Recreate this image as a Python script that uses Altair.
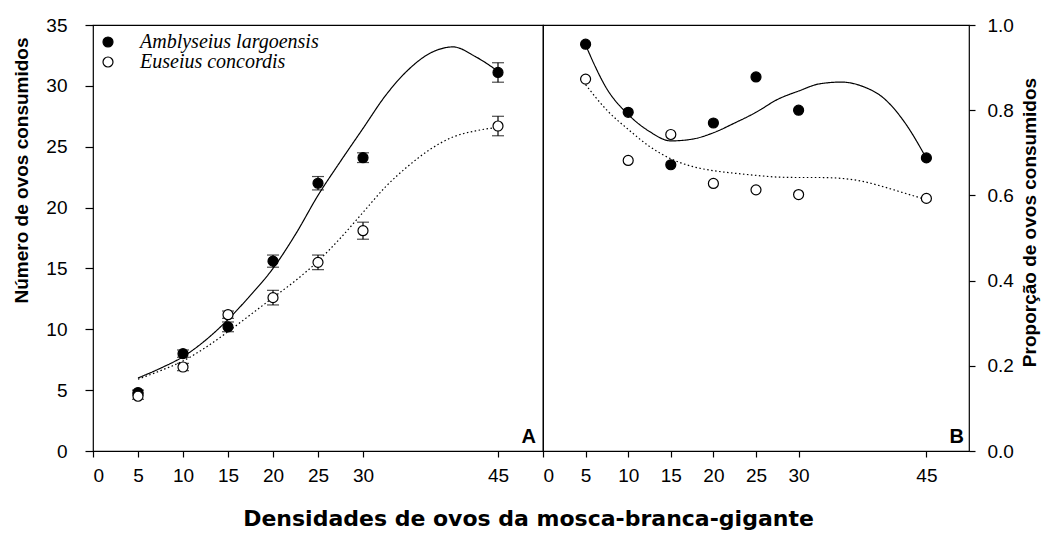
import altair as alt
import pandas as pd

# ---------------- data ----------------
density = [5, 10, 15, 20, 25, 30, 45]
species = ["Amblyseius largoensis", "Euseius concordis"]

eaten_amb = [4.8, 8.0, 10.2, 15.6, 22.0, 24.1, 31.1]
eaten_eus = [4.5, 6.9, 11.2, 12.6, 15.5, 18.1, 26.7]
err_amb = [0.2, 0.3, 0.4, 0.5, 0.55, 0.4, 0.8]
err_eus = [0.25, 0.3, 0.3, 0.6, 0.6, 0.7, 0.8]

prop_amb = [0.955, 0.795, 0.672, 0.770, 0.878, 0.800, 0.688]
prop_eus = [0.873, 0.682, 0.743, 0.628, 0.613, 0.602, 0.593]

curve_x = [5, 7.5, 10, 12.5, 15, 17.5, 20, 22.5, 25, 27.5, 30, 32.5, 35, 37.5, 40, 42.5, 45]
fitA_amb = [6.0, 6.8, 7.75, 9.1, 10.8, 12.8, 15.0, 17.8, 21.0, 23.8, 26.5, 29.2, 31.3, 32.7, 33.2, 32.4, 31.2]
fitA_eus = [5.9, 6.6, 7.4, 8.5, 9.8, 11.2, 12.6, 14.0, 15.6, 17.5, 19.6, 21.7, 23.4, 24.8, 25.8, 26.3, 26.6]
fitB_amb = [0.953, 0.85, 0.79, 0.75, 0.728, 0.732, 0.747, 0.77, 0.795, 0.825, 0.845, 0.862, 0.866, 0.856, 0.828, 0.77, 0.687]
fitB_eus = [0.86, 0.80, 0.755, 0.715, 0.686, 0.668, 0.658, 0.652, 0.647, 0.643, 0.642, 0.642, 0.64, 0.633, 0.62, 0.605, 0.59]

x_ticks = [0, 5, 10, 15, 20, 25, 30, 45]
yA_ticks = [0, 5, 10, 15, 20, 25, 30, 35]
yB_ticks = [0.0, 0.2, 0.4, 0.6, 0.8, 1.0]
panel_labels = ["A", "B"]

x_title = "Densidades de ovos da mosca-branca-gigante"
yA_title = "Número de ovos consumidos"
yB_title = "Proporção de ovos consumidos"

# ---------------- tables ----------------
n = len(density)
pts = pd.DataFrame({
    "density": density * 2,
    "species": [species[0]] * n + [species[1]] * n,
    "count": eaten_amb + eaten_eus,
    "err": err_amb + err_eus,
    "prop": prop_amb + prop_eus,
})
pts["lo"] = pts["count"] - pts["err"]
pts["hi"] = pts["count"] + pts["err"]

m = len(curve_x)
fit = pd.DataFrame({
    "density": curve_x * 2,
    "species": [species[0]] * m + [species[1]] * m,
    "count": fitA_amb + fitA_eus,
    "prop": fitB_amb + fitB_eus,
})

W_A, W_B, H = 450, 426, 426
FONT = "Liberation Sans"

xscale = alt.Scale(domain=[0, 50], nice=False, zero=False)
axis_xA = alt.Axis(values=x_ticks, format="d", tickSize=6, labelPadding=9,
                   title=x_title, titleX=435, titleY=74, titleAlign="center",
                   titleBaseline="alphabetic", titleFont="DejaVu Sans", titleFontSize=22)
axis_xB = alt.Axis(values=x_ticks, format="d", tickSize=6, labelPadding=9, title=None)
xA = alt.X("density:Q", scale=xscale, axis=axis_xA)
xB = alt.X("density:Q", scale=xscale, axis=axis_xB)

axis_yA = alt.Axis(values=yA_ticks, tickSize=8, labelPadding=18, title=yA_title,
                   titleAngle=270, titleX=-72, titleY=145, titleAlign="center",
                   titleBaseline="middle")
axis_yB = alt.Axis(values=yB_ticks, orient="right", format=".1f", tickSize=6,
                   labelPadding=12, title=yB_title, titleAngle=270, titleX=60,
                   titleY=197, titleAlign="center", titleBaseline="middle")
scale_yA = alt.Scale(domain=[0, 35], nice=False)
scale_yB = alt.Scale(domain=[0, 1], nice=False)


def yA(f):
    return alt.Y(f"{f}:Q", scale=scale_yA, axis=axis_yA)


def yB(f):
    return alt.Y(f"{f}:Q", scale=scale_yB, axis=axis_yB)


dash = alt.StrokeDash("species:N", scale=alt.Scale(domain=species, range=[[1, 0], [1.5, 2.5]]),
                      legend=None)

legA = alt.Legend(orient="none", legendX=5, legendY=7, title=None,
                  labelFont="Liberation Serif", labelFontStyle="italic",
                  labelFontSize=20, labelColor="black", labelLimit=400,
                  symbolType="circle", symbolSize=100, symbolStrokeColor="black",
                  symbolStrokeWidth=1.2, symbolOpacity=1, padding=0,
                  rowPadding=0, labelOffset=22)

fillA = alt.Fill("species:N", scale=alt.Scale(domain=species, range=["black", "white"]), legend=legA)
fillB = alt.Fill("species:N", scale=alt.Scale(domain=species, range=["black", "white"]), legend=None)

lab = pd.DataFrame({"label": panel_labels})

# ---------------- panel A ----------------
linesA = alt.Chart(fit).mark_line(color="black", strokeWidth=1.2, interpolate="monotone").encode(
    x=xA, y=yA("count"), strokeDash=dash, detail="species:N")
ruleA = alt.Chart(pts).mark_rule(color="black", strokeWidth=1.2).encode(
    x=xA, y=yA("lo"), y2="hi:Q")
capLoA = alt.Chart(pts).mark_tick(orient="horizontal", size=12, thickness=1.2, color="black").encode(
    x=xA, y=yA("lo"))
capHiA = alt.Chart(pts).mark_tick(orient="horizontal", size=12, thickness=1.2, color="black").encode(
    x=xA, y=yA("hi"))
ptsA = alt.Chart(pts).mark_circle(size=100, stroke="black", strokeWidth=1.2, opacity=1).encode(
    x=xA, y=yA("count"), fill=fillA)
textA = alt.Chart(lab).transform_filter(alt.datum.label == "A").mark_text(
    align="right", baseline="alphabetic", font=FONT, fontSize=20, fontWeight="bold",
    color="black").encode(x=alt.value(W_A - 7), y=alt.value(H - 8), text="label:N")

panelA = alt.layer(linesA, ruleA, capLoA, capHiA, ptsA, textA).properties(width=W_A, height=H)

# ---------------- panel B ----------------
linesB = alt.Chart(fit).mark_line(color="black", strokeWidth=1.2, interpolate="monotone").encode(
    x=xB, y=yB("prop"), strokeDash=dash, detail="species:N")
ptsB = alt.Chart(pts).mark_circle(size=100, stroke="black", strokeWidth=1.2, opacity=1).encode(
    x=xB, y=yB("prop"), fill=fillB)
textB = alt.Chart(lab).transform_filter(alt.datum.label == "B").mark_text(
    align="right", baseline="alphabetic", font=FONT, fontSize=20, fontWeight="bold",
    color="black").encode(x=alt.value(W_B - 5), y=alt.value(H - 8), text="label:N")

panelB = alt.layer(linesB, ptsB, textB).properties(width=W_B, height=H)

chart = alt.hconcat(panelA, panelB, spacing=0, bounds="flush").resolve_scale(
    fill="independent", x="independent", y="independent"
).resolve_legend(fill="independent").properties(
    padding={"left": 3, "top": 7, "right": 5, "bottom": 0},
    background="white",
).configure_view(
    stroke="black", strokeWidth=1.2
).configure_axis(
    labelFont=FONT, labelFontSize=19, labelColor="black",
    titleFont=FONT, titleFontSize=19, titleFontWeight="bold", titleColor="black",
    tickColor="black", tickWidth=1.2, domain=False, grid=False,
)

chart.save("out.html", embed_options={"renderer": "svg", "actions": False})
